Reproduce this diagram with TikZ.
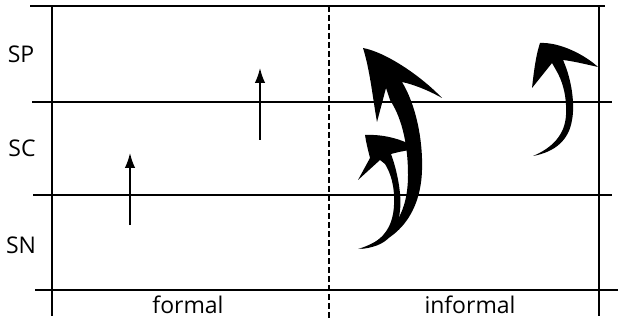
\documentclass[tikz,border=0pt]{standalone}
\usepackage{fontspec}
\setmainfont{Open Sans}
\usetikzlibrary{arrows.meta}
\begin{document}
\begin{tikzpicture}[x=1pt,y=-1pt,
  rule/.style={line width=1.9pt},
  dashrule/.style={line width=1.9pt,dash pattern=on 6pt off 3pt},
  lab/.style={font=\fontsize{23}{25}\selectfont,inner sep=0pt},
  uparrow/.style={line width=1.6pt,-{Latex[length=15pt,width=10.5pt]}},
  swoosh/.style={fill=black,draw=none}]
\useasboundingbox (0,0) rectangle (618,323);
% grid lines
\coordinate (h1a) at (30,6);   \coordinate (h1b) at (605,6);
\coordinate (h2a) at (32,102); \coordinate (h2b) at (612,102);
\coordinate (h3a) at (33,195); \coordinate (h3b) at (612,195);
\coordinate (h4a) at (35,290); \coordinate (h4b) at (618,290);
\coordinate (v1a) at (52,6);   \coordinate (v1b) at (52,316);
\coordinate (v2a) at (599,6);  \coordinate (v2b) at (599,316);
\coordinate (v3a) at (329,6);  \coordinate (v3b) at (329,318);
\draw[rule] (h1a) -- (h1b);
\draw[rule] (h2a) -- (h2b);
\draw[rule] (h3a) -- (h3b);
\draw[rule] (h4a) -- (h4b);
\draw[rule] (v1a) -- (v1b);
\draw[rule] (v2a) -- (v2b);
\draw[dashrule] (v3a) -- (v3b);
% labels
\node[lab] (sp) at (21,54) {SP};
\node[lab] (sc) at (22,148) {SC};
\node[lab] (sn) at (21,245) {SN};
\node[lab,anchor=base] (formal) at (188,313) {formal};
\node[lab,anchor=base] (informal) at (470,313) {informal};
% formal arrows
\coordinate (a1s) at (130,225); \coordinate (a1e) at (130,153);
\coordinate (a2s) at (260,140); \coordinate (a2e) at (260,68);
\draw[uparrow] (a1s) -- (a1e);
\draw[uparrow] (a2s) -- (a2e);
% informal swoosh arrows
\fill[swoosh] (363,48) .. controls (385,52) and (420,75) .. (442,98)
  .. controls (428,90) and (412,84) .. (402,82)
  .. controls (416,105) and (423,140) .. (422,170)
  .. controls (421,210) and (400,243) .. (358,249)
  .. controls (395,238) and (408,210) .. (408,175)
  .. controls (408,140) and (400,115) .. (390,100)
  -- (386,88) -- (377,122)
  .. controls (373,100) and (370,70) .. (363,48) -- cycle;
\fill[swoosh] (365,135) .. controls (385,134) and (405,140) .. (418,149)
  .. controls (408,150) and (398,152) .. (391,154)
  .. controls (397,170) and (402,195) .. (400,210)
  .. controls (398,235) and (385,247) .. (360,249)
  .. controls (382,242) and (393,228) .. (394,205)
  .. controls (395,185) and (390,172) .. (385,164)
  -- (380,160) -- (358,180) -- (370,158)
  .. controls (368,150) and (366,142) .. (365,135) -- cycle;
\fill[swoosh] (540,43) .. controls (560,42) and (585,55) .. (598,67)
  .. controls (585,64) and (572,61) .. (563,60)
  .. controls (572,80) and (575,105) .. (572,120)
  .. controls (569,140) and (555,152) .. (533,156)
  .. controls (552,148) and (565,135) .. (566,115)
  .. controls (567,95) and (562,80) .. (556,70)
  -- (552,63) -- (532,88)
  .. controls (534,70) and (536,55) .. (540,43) -- cycle;
\end{tikzpicture}
\end{document}
